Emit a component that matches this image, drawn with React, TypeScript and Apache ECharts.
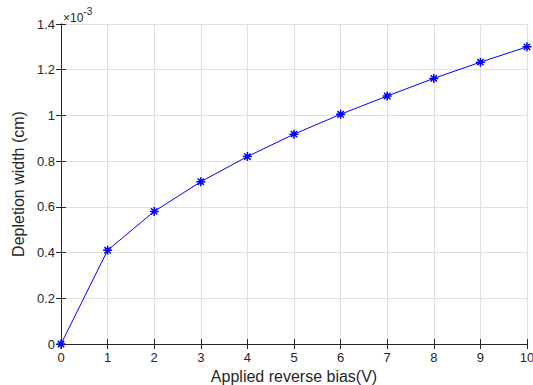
import React, { useEffect, useRef } from "react";
import * as echarts from "echarts";

const biasVolts = [0, 1, 2, 3, 4, 5, 6, 7, 8, 9, 10];
const widthE3 = [0, 0.41, 0.58, 0.71, 0.82, 0.918, 1.005, 1.085, 1.162, 1.233, 1.3];
const yTicks = [0, 0.2, 0.4, 0.6, 0.8, 1, 1.2, 1.4];

const asterisk = "path://M0,5 L10,5 M5,0 L5,10 M1.5,1.5 L8.5,8.5 M1.5,8.5 L8.5,1.5";

export default function App() {
  const ref = useRef<HTMLDivElement>(null);
  useEffect(() => {
    if (!ref.current) return;
    const chart = echarts.init(ref.current, null, { renderer: "svg" });
    const axisColor = "#262626";
    const font = "Liberation Sans";
    const common = {
      type: "value" as const,
      axisLine: { show: true, lineStyle: { color: axisColor, width: 1 } },
      axisTick: { show: true, inside: true, length: 5, lineStyle: { color: axisColor } },
      splitLine: { show: false },
    };
    chart.setOption({
      animation: false,
      backgroundColor: "#ffffff",
      textStyle: { fontFamily: font },
      grid: { left: 61, right: 6, top: 24, bottom: 41, containLabel: false, outerBoundsMode: "none" },
      xAxis: [
        {
          ...common,
          min: 0,
          max: 10,
          interval: 1,
          position: "bottom",
          axisLabel: { color: axisColor, fontSize: 13, fontFamily: font, margin: 7 },
          splitLine: { show: true, lineStyle: { color: "#e0e0e0", width: 1 } },
          name: "Applied reverse bias(V)",
          nameLocation: "middle",
          nameGap: 24,
          nameTextStyle: { color: axisColor, fontSize: 16, fontFamily: font },
        },
        {
          ...common,
          min: 0,
          max: 10,
          interval: 1,
          position: "top",
          axisLabel: { show: false },
        },
      ],
      yAxis: [
        {
          ...common,
          min: 0,
          max: 1.4,
          interval: 0.2,
          position: "left",
          axisLabel: {
            color: axisColor,
            fontSize: 13,
            fontFamily: font,
            margin: 6,
            formatter: (v: number) => {
              const t = yTicks.find((x) => Math.abs(x - v) < 1e-6);
              return String(t !== undefined ? t : v);
            },
          },
          splitLine: { show: true, lineStyle: { color: "#e0e0e0", width: 1 } },
          name: "Depletion width (cm)",
          nameLocation: "middle",
          nameGap: 33,
          nameTextStyle: { color: axisColor, fontSize: 16, fontFamily: font },
        },
        {
          ...common,
          min: 0,
          max: 1.4,
          interval: 0.2,
          position: "right",
          axisLabel: { show: false },
        },
      ],
      graphic: [
        {
          type: "text",
          left: 63,
          top: 6,
          style: {
            text: "{a|×10}{b|-3}",
            rich: {
              a: { fontSize: 12, fontFamily: font, fill: axisColor, verticalAlign: "bottom", padding: [6, 0, 0, 0] },
              b: { fontSize: 10, fontFamily: font, fill: axisColor, verticalAlign: "top", padding: [0, 0, 6, 0] },
            },
          },
        },
      ],
      series: [
        {
          type: "line",
          data: biasVolts.map((v, i) => [v, widthE3[i]]),
          lineStyle: { color: "#0000ff", width: 1 },
          symbol: asterisk,
          symbolSize: 9,
          showAllSymbol: true,
          itemStyle: { color: "none", borderColor: "#0000ff", borderWidth: 1.5 },
          clip: false,
        },
      ],
    });
    return () => chart.dispose();
  }, []);
  return <div ref={ref} style={{ width: 533, height: 385, position: "absolute", left: 0, top: 0 }} />;
}
